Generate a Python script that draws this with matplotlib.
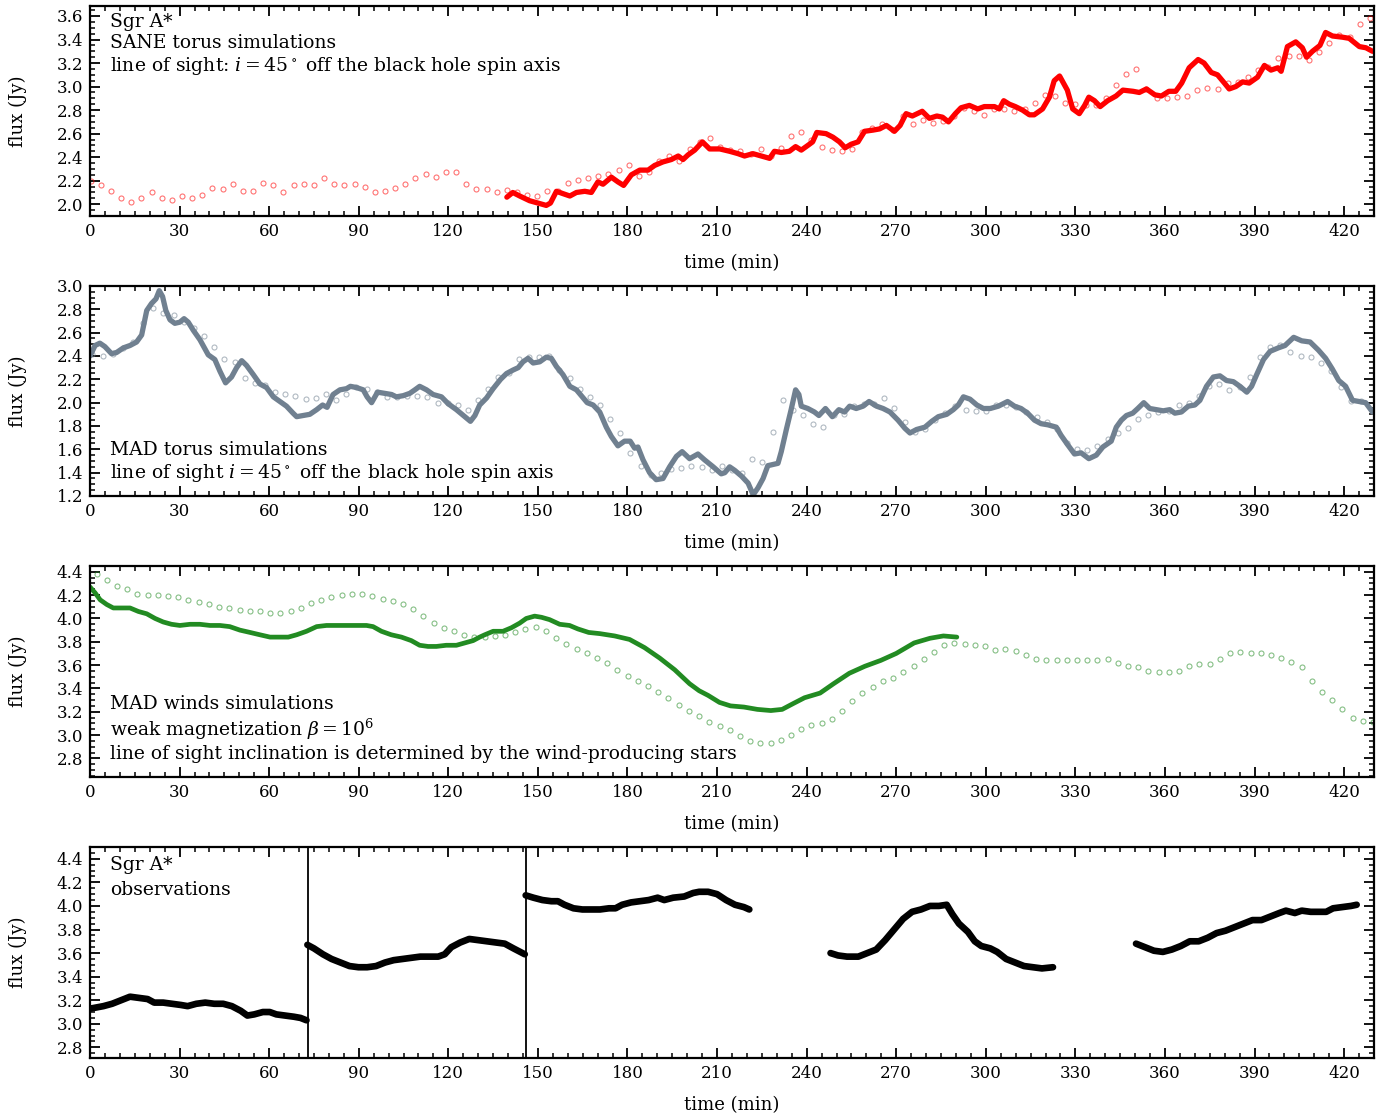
#! /usr/bin/env python3
import numpy as np
import matplotlib
matplotlib.use("Agg")
import matplotlib.pyplot as plt
from matplotlib.ticker import MultipleLocator

plt.rcParams['font.family'] = ['DejaVu Serif']
plt.rcParams['mathtext.fontset'] = 'dejavuserif'

# ---- SANE torus (panel 1) ----
sane_circ_t0, sane_circ_dt = 0.2, 3.4
sane_circ = [2.20, 2.16, 2.11, 2.05, 2.02, 2.05, 2.10, 2.05, 2.04, 2.07,
             2.05, 2.08, 2.14, 2.13, 2.17, 2.11, 2.11, 2.18, 2.16, 2.10,
             2.16, 2.17, 2.16, 2.22, 2.17, 2.16, 2.17, 2.15, 2.10, 2.11,
             2.14, 2.17, 2.22, 2.26, 2.23, 2.27, 2.27, 2.17, 2.13, 2.13,
             2.10, 2.12, 2.10, 2.08, 2.07, 2.11, 2.11, 2.18, 2.21, 2.22,
             2.24, 2.26, 2.29, 2.33, 2.24, 2.27, 2.37, 2.41, 2.37, 2.47,
             2.53, 2.56, 2.49, 2.46, 2.45, 2.43, 2.47, 2.41, 2.48, 2.58,
             2.61, 2.55, 2.49, 2.46, 2.45, 2.47, 2.61, 2.65, 2.68, 2.63,
             2.75, 2.68, 2.72, 2.69, 2.71, 2.75, 2.82, 2.79, 2.76, 2.81,
             2.81, 2.79, 2.81, 2.86, 2.93, 2.92, 2.86, 2.85, 2.84, 2.84,
             2.90, 3.01, 3.11, 3.15, 2.98, 2.90, 2.90, 2.91, 2.92, 2.97,
             2.99, 2.98, 3.03, 3.04, 3.08, 3.14, 3.17, 3.24, 3.26, 3.26,
             3.23, 3.29, 3.37, 3.44, 3.42, 3.53, 3.58]
sane_line = [(139.6, 2.06), (141.6, 2.10), (143.9, 2.07), (147.2, 2.03), (150.0, 2.01),
             (152.8, 1.99), (154.2, 2.01), (156.2, 2.11), (158.4, 2.09), (160.7, 2.07),
             (162.9, 2.10), (165.7, 2.11), (167.9, 2.10), (170.1, 2.19), (171.8, 2.17),
             (174.6, 2.23), (176.8, 2.19), (178.7, 2.16), (181.3, 2.25), (184.1, 2.29),
             (186.9, 2.29), (189.1, 2.33), (191.9, 2.36), (194.7, 2.38), (197.0, 2.41),
             (198.6, 2.38), (200.3, 2.42), (202.5, 2.46), (205.1, 2.53), (207.5, 2.47),
             (210.9, 2.47), (214.2, 2.45), (217.0, 2.43), (219.2, 2.41), (222.0, 2.43),
             (224.8, 2.41), (227.6, 2.39), (229.2, 2.45), (231.5, 2.44), (234.2, 2.45),
             (236.3, 2.49), (238.2, 2.46), (240.4, 2.50), (242.0, 2.53), (243.4, 2.61),
             (246.5, 2.60), (248.8, 2.57), (251.0, 2.53), (252.9, 2.48), (254.9, 2.51),
             (257.2, 2.53), (259.4, 2.62), (262.2, 2.63), (264.4, 2.64), (266.7, 2.67),
             (269.4, 2.62), (271.3, 2.67), (273.3, 2.77), (275.4, 2.75), (278.7, 2.79),
             (281.1, 2.73), (283.6, 2.75), (285.5, 2.74), (287.5, 2.70), (289.8, 2.77),
             (291.7, 2.82), (294.5, 2.84), (297.3, 2.81), (299.5, 2.83), (302.9, 2.83),
             (304.5, 2.81), (306.0, 2.88), (307.9, 2.85), (309.9, 2.83), (312.3, 2.80),
             (314.6, 2.76), (316.2, 2.76), (319.0, 2.81), (321.3, 2.91), (322.9, 3.05),
             (324.7, 3.09), (327.3, 2.97), (329.1, 2.81), (331.3, 2.77), (333.1, 2.84),
             (334.5, 2.91), (336.4, 2.88), (338.3, 2.83), (340.8, 2.88), (343.6, 2.92),
             (345.9, 2.97), (349.3, 2.96), (351.4, 2.95), (353.8, 2.98), (356.6, 2.93),
             (358.8, 2.92), (361.3, 2.96), (363.6, 2.96), (365.6, 3.03), (368.1, 3.16),
             (371.1, 3.23), (373.1, 3.20), (375.5, 3.12), (377.6, 3.10), (379.9, 3.03),
             (381.5, 2.98), (383.7, 3.00), (386.0, 3.04), (388.2, 3.03), (391.0, 3.08),
             (393.3, 3.18), (395.5, 3.14), (397.8, 3.16), (398.9, 3.13), (401.0, 3.34),
             (403.8, 3.38), (406.0, 3.33), (407.4, 3.25), (409.4, 3.30), (411.9, 3.35),
             (413.8, 3.46), (416.1, 3.43), (419.4, 3.42), (421.7, 3.41), (425.1, 3.34),
             (427.3, 3.33), (429.5, 3.30)]

# ---- MAD torus (panel 2) ----
madt_circ_t0, madt_circ_dt = 0.8, 3.4
madt_circ = [2.42,
             2.40, 2.42, 2.47, 2.52, 2.68, 2.81, 2.77, 2.75, 2.69, 2.64,
             2.57, 2.48, 2.37, 2.35, 2.21, 2.17, 2.15, 2.09, 2.07, 2.06,
             2.03, 2.04, 2.07, 2.02, 2.07, 2.13, 2.12, 2.09, 2.05, 2.05,
             2.06, 2.06, 2.05, 2.00, 2.00, 1.98, 1.94, 2.02, 2.12, 2.22,
             2.25, 2.37, 2.39, 2.39, 2.40, 2.28, 2.21,
             2.12, 2.05,
             1.98, 1.86, 1.74, 1.57, 1.46, 1.38, 1.40, 1.43, 1.44, 1.46,
             1.45, 1.42, 1.46, 1.42, 1.40, 1.52, 1.49, 1.75, 2.02, 1.94,
             1.89, 1.82, 1.79, 1.89, 1.90, 1.97, 1.99, 1.99, 2.04, 1.95,
             1.83, 1.75, 1.77, 1.85, 1.91, 1.97, 1.94, 1.93, 1.93, 1.98,
             1.98, 1.96, 1.92, 1.88, 1.83, 1.77, 1.65, 1.60, 1.59, 1.63,
             1.69, 1.74, 1.78, 1.86, 1.89, 1.92, 1.93, 1.98, 2.00, 2.06,
             2.14, 2.16, 2.11, 2.13, 2.22, 2.39, 2.48, 2.49, 2.43, 2.40,
             2.39, 2.34, 2.27, 2.13, 2.01, 2.01, 1.94]
madt_line = [(0.0, 2.40), (1.7, 2.49), (3.3, 2.51), (5.0, 2.48), (7.2, 2.42), (8.9, 2.43),
             (11.2, 2.47), (13.4, 2.49), (15.6, 2.52), (17.3, 2.58), (19.0, 2.79), (20.6, 2.85),
             (22.1, 2.89), (23.2, 2.96), (24.3, 2.91), (25.4, 2.79), (26.8, 2.71), (28.4, 2.68),
             (30.1, 2.69), (31.5, 2.72), (32.9, 2.69), (34.6, 2.62), (36.8, 2.54), (39.6, 2.41),
             (41.8, 2.37), (43.5, 2.27), (45.4, 2.17), (47.4, 2.22), (49.1, 2.30), (50.8, 2.36),
             (52.4, 2.32), (54.7, 2.24), (56.9, 2.16), (59.1, 2.13), (61.4, 2.05), (63.6, 2.01),
             (65.8, 1.97), (68.0, 1.91), (69.2, 1.88), (71.4, 1.89), (73.6, 1.90), (75.9, 1.94),
             (77.9, 1.98), (79.4, 1.96), (81.4, 2.07), (83.7, 2.11), (85.9, 2.12), (87.2, 2.14),
             (89.2, 2.13), (91.5, 2.11), (92.8, 2.05), (94.3, 2.00), (96.3, 2.09), (98.7, 2.08),
             (101.0, 2.07), (102.6, 2.05), (104.9, 2.06), (107.1, 2.08), (108.8, 2.11), (110.4, 2.14),
             (112.7, 2.11), (114.9, 2.07), (117.7, 2.05), (120.0, 1.99), (122.7, 1.94), (125.5, 1.88),
             (127.4, 1.84), (128.9, 1.89), (130.5, 1.98), (132.8, 2.04), (135.0, 2.12), (137.5, 2.20),
             (139.5, 2.25), (141.7, 2.28), (143.4, 2.30), (145.0, 2.35), (146.7, 2.38), (148.4, 2.34),
             (150.6, 2.35), (152.8, 2.39), (154.5, 2.38), (156.2, 2.31), (158.4, 2.24), (160.7, 2.14),
             (162.9, 2.11), (166.5, 2.00), (168.5, 1.98), (170.7, 1.92), (172.9, 1.79), (174.6, 1.71),
             (176.8, 1.63), (179.0, 1.67), (180.9, 1.67), (182.4, 1.61), (183.5, 1.62), (185.2, 1.51),
             (187.4, 1.40), (189.6, 1.34), (191.9, 1.35), (194.1, 1.45), (196.4, 1.54), (198.3, 1.58),
             (200.8, 1.52), (203.6, 1.56), (205.8, 1.51), (208.7, 1.45), (211.4, 1.39), (212.6, 1.40),
             (214.2, 1.45), (215.9, 1.42), (218.2, 1.37), (220.4, 1.31), (222.1, 1.21), (223.7, 1.27),
             (225.4, 1.35), (227.0, 1.46), (228.7, 1.47), (230.4, 1.48), (231.5, 1.58), (233.2, 1.77),
             (234.8, 1.94), (236.3, 2.11), (237.4, 2.07), (238.2, 1.97), (240.4, 1.95), (242.6, 1.92),
             (244.1, 1.89), (246.3, 1.95), (248.6, 1.88), (250.8, 1.94), (252.7, 1.92), (254.4, 1.97),
             (256.6, 1.95), (258.9, 1.97), (260.9, 2.01), (263.4, 1.97), (265.6, 1.95), (267.9, 1.92),
             (270.6, 1.85), (272.9, 1.78), (274.6, 1.74), (276.8, 1.77), (279.6, 1.79), (281.9, 1.84),
             (284.1, 1.88), (286.9, 1.90), (289.1, 1.94), (290.8, 1.98), (292.5, 2.05), (294.7, 2.03),
             (297.0, 1.98), (299.2, 1.95), (301.5, 1.95), (304.2, 1.97), (307.3, 2.01), (309.6, 1.97),
             (311.8, 1.95), (314.0, 1.91), (316.3, 1.85), (318.5, 1.82), (320.8, 1.81), (323.6, 1.79),
             (325.2, 1.72), (327.4, 1.64), (329.7, 1.56), (331.9, 1.57), (334.5, 1.52), (337.0, 1.55),
             (339.2, 1.62), (342.0, 1.67), (343.7, 1.79), (345.4, 1.85), (347.1, 1.89), (349.2, 1.91),
             (350.9, 1.95), (352.9, 2.00), (354.9, 1.95), (357.1, 1.94), (359.4, 1.93), (361.6, 1.94),
             (363.3, 1.91), (365.5, 1.92), (367.8, 1.97), (370.0, 1.98), (371.7, 2.02), (373.9, 2.14),
             (376.2, 2.22), (378.4, 2.23), (380.6, 2.19), (382.9, 2.18), (385.1, 2.14), (387.4, 2.09),
             (389.0, 2.14), (390.7, 2.24), (393.0, 2.37), (395.2, 2.44), (398.0, 2.47), (400.2, 2.49),
             (403.1, 2.56), (405.8, 2.53), (408.6, 2.52), (411.4, 2.45), (413.8, 2.38), (416.0, 2.29),
             (418.2, 2.19), (420.5, 2.14), (422.8, 2.02), (425.0, 2.01), (427.2, 2.00), (429.5, 1.92)]

# ---- MAD winds (panel 3) ----
madw_circ_t0, madw_circ_dt = 2.2, 3.42
madw_circ = [4.38, 4.33, 4.28, 4.25, 4.21, 4.20, 4.20, 4.19, 4.18, 4.16,
             4.14, 4.12, 4.10, 4.09, 4.07, 4.06, 4.06, 4.05, 4.05, 4.06,
             4.09, 4.13, 4.16, 4.18, 4.20, 4.21, 4.21, 4.19, 4.17, 4.15,
             4.12, 4.08, 4.02, 3.96, 3.92, 3.89, 3.86, 3.84, 3.84, 3.85,
             3.86, 3.88, 3.91, 3.93, 3.89, 3.83, 3.78, 3.74,
             3.70, 3.66, 3.62, 3.56, 3.51, 3.46, 3.42, 3.37, 3.32, 3.26,
             3.21, 3.16,
             3.11, 3.08, 3.04, 2.99, 2.95, 2.93, 2.93, 2.96, 3.00, 3.05,
             3.09, 3.10, 3.14, 3.21, 3.29, 3.36, 3.41, 3.46, 3.49, 3.54,
             3.59, 3.65, 3.71, 3.77, 3.79, 3.78, 3.77, 3.76, 3.73, 3.74,
             3.72, 3.69, 3.65, 3.64, 3.64, 3.64, 3.64, 3.64, 3.64, 3.65,
             3.62, 3.59, 3.58, 3.55, 3.54, 3.54, 3.55, 3.59, 3.61, 3.61,
             3.65, 3.70, 3.71, 3.70, 3.70, 3.69, 3.66, 3.63, 3.58, 3.46,
             3.37, 3.30, 3.22, 3.15, 3.12, 3.11]
madw_line = [(0.0, 4.27), (1.7, 4.22), (3.4, 4.16), (5.6, 4.12), (7.8, 4.09), (10.6, 4.09),
             (13.4, 4.09), (16.2, 4.06), (19.0, 4.04), (21.8, 4.00), (24.5, 3.97), (27.3, 3.95),
             (30.1, 3.94), (33.5, 3.95), (36.8, 3.95), (40.2, 3.94), (43.5, 3.94), (46.8, 3.93),
             (50.2, 3.90), (53.6, 3.88), (56.9, 3.86), (60.3, 3.84), (63.6, 3.84), (66.4, 3.84),
             (69.2, 3.86), (72.5, 3.89), (75.9, 3.93), (79.2, 3.94), (82.6, 3.94), (85.9, 3.94),
             (89.2, 3.94), (92.6, 3.94), (94.8, 3.93), (97.6, 3.89), (100.9, 3.86), (104.3, 3.84),
             (107.6, 3.81), (110.4, 3.77), (113.2, 3.76), (116.0, 3.76), (119.3, 3.77), (122.7, 3.77),
             (125.5, 3.79), (128.3, 3.81), (130.5, 3.84), (132.2, 3.86), (135.0, 3.89), (138.3, 3.89),
             (141.1, 3.92), (143.9, 3.96), (146.1, 4.00), (148.9, 4.02), (151.2, 4.01), (153.9, 3.99),
             (157.3, 3.95), (160.6, 3.94), (163.4, 3.91), (167.0, 3.88), (170.7, 3.87), (175.7, 3.85),
             (180.7, 3.82), (185.7, 3.75), (190.8, 3.66), (195.8, 3.56), (200.8, 3.44), (204.0, 3.38),
             (207.0, 3.34), (210.8, 3.28), (214.5, 3.25), (219.0, 3.24), (223.5, 3.22), (228.0, 3.21),
             (231.8, 3.22), (235.5, 3.27), (239.3, 3.32), (244.5, 3.36), (249.0, 3.44), (254.3, 3.53),
             (259.5, 3.59), (264.8, 3.64), (270.0, 3.70), (276.0, 3.79), (281.3, 3.83), (285.8, 3.85),
             (290.3, 3.84)]

# ---- observations (panel 4), nan = gap between nights ----
nan = float('nan')
obs_t = [0.3, 4.5, 7.4, 10.4, 13.4, 16.3, 19.3, 21.5, 24.5, 27.5, 30.4, 32.7, 35.6, 38.6,
         41.6, 44.6, 47.5, 50.5, 52.7, 55.0, 57.9, 60.2, 62.4, 65.3, 68.3, 70.5, 72.5, nan,
         72.8, 75.0, 78.0, 80.9, 83.9, 86.9, 89.9, 92.8, 95.8, 98.8, 101.7, 104.7, 107.7, 110.6,
         113.6, 116.6, 118.8, 121.0, 124.0, 127.0, 129.9, 132.9, 135.9, 138.9, 141.8, 144.1, 145.6, nan,
         145.9, 148.5, 151.5, 154.5, 156.7, 158.9, 161.9, 164.9, 167.8, 170.8, 173.8, 176.0, 178.2,
         181.2, 184.2, 187.1, 190.1, 192.3, 195.3, 199.0, 202.0, 204.0, 207.0, 210.0, 213.0, 216.0,
         219.0, 220.8, nan,
         248.0, 250.5, 253.5, 257.3, 260.3, 263.3, 266.3, 269.3, 272.3, 275.3, 278.3, 281.3, 284.3,
         286.9, 288.8, 291.0, 294.0, 296.3, 298.5, 301.5, 303.8, 306.8, 309.8, 312.8, 315.8, 318.8,
         322.5, nan,
         350.3, 353.3, 356.3, 359.3, 362.3, 365.3, 368.3, 371.3, 374.3, 377.3, 380.3, 383.3, 386.3,
         389.3, 392.3, 395.3, 398.3, 400.5, 403.5, 405.8, 408.8, 411.8, 414.0, 416.3, 419.3, 422.3,
         424.2]
obs_f = [3.13, 3.15, 3.17, 3.20, 3.23, 3.22, 3.21, 3.18, 3.18, 3.17, 3.16, 3.15, 3.17, 3.18,
         3.17, 3.17, 3.15, 3.11, 3.07, 3.08, 3.10, 3.10, 3.08, 3.07, 3.06, 3.05, 3.03, nan,
         3.67, 3.64, 3.59, 3.55, 3.52, 3.49, 3.48, 3.48, 3.49, 3.52, 3.54, 3.55, 3.56, 3.57,
         3.57, 3.57, 3.59, 3.65, 3.69, 3.72, 3.71, 3.70, 3.69, 3.68, 3.64, 3.61, 3.59, nan,
         4.09, 4.07, 4.05, 4.04, 4.04, 4.01, 3.98, 3.97, 3.97, 3.97, 3.98, 3.98, 4.01,
         4.03, 4.04, 4.05, 4.07, 4.05, 4.07, 4.08, 4.11, 4.12, 4.12, 4.10, 4.05, 4.01,
         3.99, 3.97, nan,
         3.60, 3.58, 3.57, 3.57, 3.60, 3.63, 3.71, 3.80, 3.89, 3.95, 3.97, 4.00, 4.00,
         4.01, 3.93, 3.85, 3.78, 3.70, 3.66, 3.64, 3.61, 3.55, 3.52, 3.49, 3.48, 3.47,
         3.48, nan,
         3.68, 3.65, 3.62, 3.61, 3.63, 3.66, 3.70, 3.70, 3.73, 3.77, 3.79, 3.82, 3.85,
         3.88, 3.88, 3.91, 3.94, 3.96, 3.94, 3.96, 3.95, 3.95, 3.95, 3.98, 3.99, 4.00,
         4.01]
obs_breaks = [73, 146]

xticks = np.arange(0, 421, 30)


def style_axis(ax, ylim, ymajor):
    ax.set_xlim(0, 430)
    ax.set_ylim(*ylim)
    ax.set_xticks(xticks)
    ax.xaxis.set_minor_locator(MultipleLocator(5))
    ax.yaxis.set_major_locator(MultipleLocator(ymajor))
    ax.yaxis.set_minor_locator(MultipleLocator(0.05))
    ax.yaxis.set_major_formatter(matplotlib.ticker.FormatStrFormatter('%.1f'))
    ax.tick_params(which='both', direction='in', top=True, right=True, labelsize=12)
    ax.tick_params(which='major', length=7, width=1.3, pad=5)
    ax.tick_params(which='minor', length=3.5, width=1.1)
    for s in ax.spines.values():
        s.set_linewidth(1.6)
    ax.set_xlabel('time (min)', fontsize=13, labelpad=10)
    ax.set_ylabel('flux (Jy)', fontsize=13)
    ax.yaxis.set_label_coords(-0.049, 0.5)


def circles(ax, t0, dt, vals, color):
    t = t0 + dt * np.arange(len(vals))
    ax.plot(t, vals, 'o', ms=3.6, mfc='none', mec=color, mew=0.8, alpha=0.55)


def curve(ax, pts, color, lw):
    arr = np.array(pts)
    ax.plot(arr[:, 0], arr[:, 1], '-', color=color, lw=lw,
            solid_capstyle='round', solid_joinstyle='round')


fig = plt.figure(figsize=(13.98, 11.16), dpi=100)
W, H = 1398.0, 1116.0
left, width = 90 / W, (1374 - 90) / W
tops = [6, 286, 566, 847]
heights = [210, 210, 211, 211]
axes = [fig.add_axes([left, 1 - (t + h) / H, width, h / H]) for t, h in zip(tops, heights)]

# panel 1
ax = axes[0]
circles(ax, sane_circ_t0, sane_circ_dt, sane_circ, 'red')
curve(ax, sane_line, 'red', 3.8)
style_axis(ax, (1.9, 3.685), 0.2)
ax.text(0.0155, 0.965, 'Sgr A*\nSANE torus simulations\n'
        'line of sight: $i=45^\\circ$ off the black hole spin axis',
        transform=ax.transAxes, ha='left', va='top', fontsize=13.5, linespacing=1.2)

# panel 2
ax = axes[1]
circles(ax, madt_circ_t0, madt_circ_dt, madt_circ, 'slategray')
curve(ax, madt_line, 'slategray', 3.8)
style_axis(ax, (1.2, 3.0), 0.2)
ax.text(0.0155, 0.055, 'MAD torus simulations\n'
        'line of sight $i=45^\\circ$ off the black hole spin axis',
        transform=ax.transAxes, ha='left', va='bottom', fontsize=13.5, linespacing=1.2)

# panel 3
ax = axes[2]
circles(ax, madw_circ_t0, madw_circ_dt, madw_circ, 'forestgreen')
curve(ax, madw_line, 'forestgreen', 3.4)
style_axis(ax, (2.64, 4.45), 0.2)
ax.text(0.0155, 0.065, 'MAD winds simulations\n'
        'weak magnetization $\\beta=10^6$\n'
        'line of sight inclination is determined by the wind-producing stars',
        transform=ax.transAxes, ha='left', va='bottom', fontsize=13.5, linespacing=1.2)

# panel 4
ax = axes[3]
ax.plot(obs_t, obs_f, '-', color='black', lw=4.8, solid_capstyle='round')
for b in obs_breaks:
    ax.axvline(b, color='black', lw=1.3)
style_axis(ax, (2.71, 4.5), 0.2)
ax.text(0.0155, 0.955, 'Sgr A*\nobservations',
        transform=ax.transAxes, ha='left', va='top', fontsize=13.5, linespacing=1.45)

fig.savefig('out.png', dpi=100)
